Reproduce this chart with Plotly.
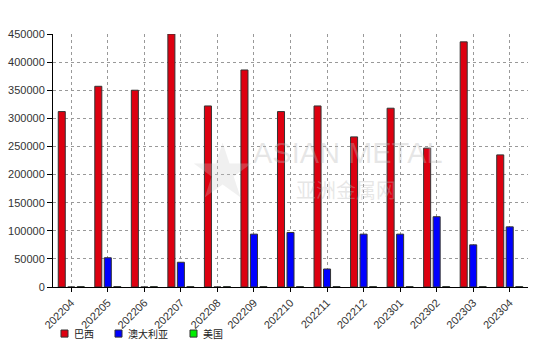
import plotly.graph_objects as go

months = ["202204", "202205", "202206", "202207", "202208", "202209", "202210",
          "202211", "202212", "202301", "202302", "202303", "202304"]
brazil = [312000, 357000, 350000, 450000, 322000, 386000, 312000,
          322000, 267000, 318000, 247000, 436000, 235000]
australia = [0, 52000, 0, 44000, 0, 94000, 97000,
             32000, 94000, 94000, 125000, 75000, 107000]
usa = [700, 700, 700, 700, 700, 700, 700, 700, 700, 700, 700, 700, 700]
y_ticks = [0, 50000, 100000, 150000, 200000, 250000, 300000, 350000, 400000, 450000]

series_names = ["巴西", "澳大利亚", "美国"]
series_colors = ["#dd0010", "#0000ff", "#00ee00"]

fig = go.Figure()
for name, vals, col in zip(series_names, [brazil, australia, usa], series_colors):
    fig.add_trace(go.Bar(x=months, y=vals, name=name, showlegend=False,
                         marker=dict(color=col, line=dict(color="#333333", width=1))))

# watermark
wm = "rgba(185,185,185,0.35)"
fig.add_annotation(x=0.282, y=0.46, xref="paper", yref="paper", text="★",
                   showarrow=False, font=dict(family="DejaVu Sans", size=75, color="rgba(200,200,200,0.28)"))
fig.add_annotation(x=0.622, y=0.530, xref="paper", yref="paper", text="ASIAN METAL",
                   showarrow=False, font=dict(family="Liberation Sans", size=29, color=wm))
fig.add_annotation(x=0.617, y=0.385, xref="paper", yref="paper", text="亚洲金属网",
                   showarrow=False, font=dict(family="Noto Sans CJK SC", size=20, color=wm))

# legend (manual, below the axis)
leg_sq = [(0.0168, 0.0316), (0.1305, 0.1453), (0.2884, 0.3032)]
leg_tx = [0.040, 0.154, 0.312]
for (x0, x1), tx, name, col in zip(leg_sq, leg_tx, series_names, series_colors):
    fig.add_shape(type="rect", xref="paper", yref="paper", x0=x0, x1=x1, y0=-0.198, y1=-0.170,
                  fillcolor=col, line=dict(color="#333333", width=1))
    fig.add_annotation(x=tx, y=-0.184, xref="paper", yref="paper", text=name, showarrow=False,
                       xanchor="left", yanchor="middle",
                       font=dict(family="Noto Sans CJK SC", size=10, color="#222222"))

fig.update_layout(
    width=534, height=345,
    margin=dict(l=53, r=6, t=34, b=58),
    paper_bgcolor="white", plot_bgcolor="white",
    barmode="group", bargap=0.22, bargroupgap=0.26,
    font=dict(family="Liberation Sans", size=11, color="#333333"),
    showlegend=False,
)
fig.update_xaxes(type="category", tickangle=-45, showline=True, linecolor="#000", linewidth=1,
                 ticks="outside", ticklen=4, tickcolor="#000", automargin=False,
                 showgrid=True, gridcolor="#999999", griddash="dot", gridwidth=1,
                 tickfont=dict(family="Liberation Sans", size=11, color="#333333"))
fig.update_yaxes(range=[0, 450000], tickvals=y_ticks, ticktext=[str(v) for v in y_ticks],
                 showline=True, linecolor="#000", linewidth=1, automargin=False,
                 ticks="outside", ticklen=5, tickcolor="#000",
                 showgrid=True, gridcolor="#999999", griddash="dot", gridwidth=1, zeroline=False,
                 tickfont=dict(family="Liberation Sans", size=11, color="#333333"))

fig.write_html("out.html")
